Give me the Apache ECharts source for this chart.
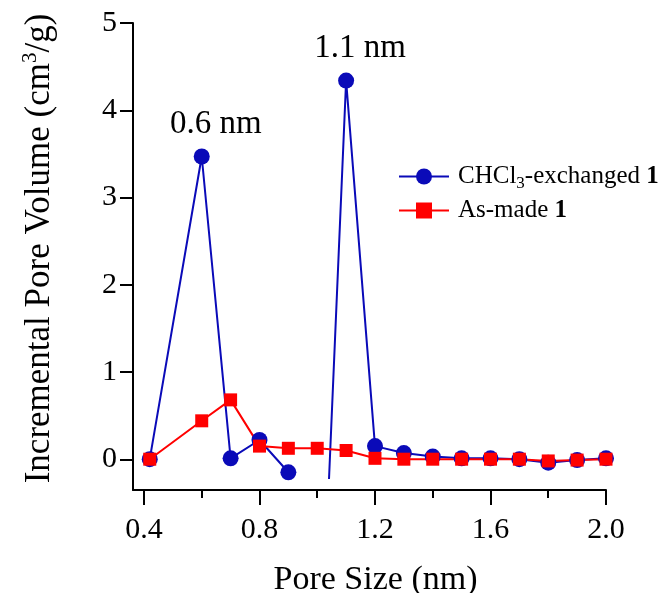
<!DOCTYPE html>
<html>
<head>
<meta charset="utf-8">
<script src="https://cdn.jsdelivr.net/npm/echarts@6/dist/echarts.min.js"></script>
<style>
  html, body { margin: 0; padding: 0; background: #fff; }
  #chart { width: 668px; height: 593px; }
</style>
</head>
<body>
<div id="chart"></div>
<script>
// pore size (nm)
const poreSize = [0.42, 0.6, 0.7, 0.8, 0.9, 1.0, 1.1, 1.2, 1.3, 1.4, 1.5, 1.6, 1.7, 1.8, 1.9, 2.0];
// CHCl3-exchanged 1 (1.0 nm point runs off the bottom of the plot)
const exchanged = [0.0, 3.47, 0.01, 0.22, -0.15, -3.37, 4.34, 0.15, 0.07, 0.03, 0.01, 0.01, 0.0, -0.04, -0.01, 0.01];
// As-made 1
const asMade = [0.0, 0.44, 0.68, 0.15, 0.125, 0.125, 0.10, 0.01, 0.0, 0.0, 0.0, 0.0, 0.0, -0.02, -0.01, 0.0];
// peak annotations on the exchanged curve
const peakLabels = ["", "0.6 nm", "", "", "", "", "1.1 nm", "", "", "", "", "", "", "", "", ""];

const xMajor = [0.4, 0.8, 1.2, 1.6, 2.0];
const xMinor = [0.6, 1.0, 1.4, 1.8];
const yTicks = [0, 1, 2, 3, 4, 5];

const font = "'Liberation Serif', 'Times New Roman', serif";
const blue = "#0a0ab8";
const red = "#ff0000";

function pairs(ys, labels) {
  return poreSize.map(function (x, i) {
    let item = { value: [x, ys[i]] };
    if (labels && labels[i]) {
      item.label = {
        show: true,
        formatter: labels[i],
        position: "top",
        distance: 8,
        offset: [14, 0],
        fontFamily: font,
        fontSize: 33,
        color: "#000"
      };
    }
    return item;
  });
}

// grid 0 draws the data (clipped a little above the axis line),
// grid 1 carries the visible axes
const xMin = 0.362, xMax = 2.0;
const yMax = 5, yMinData = -0.2155, yMinAxis = -0.35;

let myChart = echarts.init(document.getElementById("chart")),
  option;

option = {
  animation: false,
  backgroundColor: "#fff",
  grid: [
    { left: 133, right: 62, top: 23, bottom: 115, outerBoundsMode: "none" },
    { left: 133, right: 62, top: 23, bottom: 103, outerBoundsMode: "none" }
  ],
  legend: {
    orient: "vertical",
    left: 398,
    top: 164,
    padding: 0,
    itemWidth: 50,
    itemHeight: 20,
    itemGap: 6,
    data: ["ex", "am"],
    formatter: function (name) {
      return name === "ex" ? "CHCl{sub|3}-exchanged {b|1}" : "As-made {b|1}";
    },
    textStyle: {
      fontFamily: font,
      fontSize: 25,
      color: "#000",
      padding: [0, 0, 0, 4],
      rich: {
        sub: { fontFamily: font, fontSize: 17, color: "#000", padding: [14, 0, 0, 0] },
        b: { fontFamily: font, fontSize: 25, fontWeight: "bold", color: "#000" }
      }
    }
  },
  xAxis: [
    {
      type: "value",
      gridIndex: 0,
      min: xMin,
      max: xMax,
      show: false
    },
    {
      type: "value",
      gridIndex: 1,
      min: xMin,
      max: xMax,
      name: "Pore Size (nm)",
      nameLocation: "middle",
      nameGap: 73,
      nameTextStyle: { fontFamily: font, fontSize: 34, color: "#000", padding: [0, 0, 0, 12] },
      axisLine: { show: true, onZero: false, lineStyle: { color: "#000", width: 2 } },
      axisTick: { show: true, customValues: xMajor, length: 15, lineStyle: { color: "#000", width: 2 } },
      axisLabel: {
        show: true,
        customValues: xMajor,
        margin: 25,
        fontFamily: font,
        fontSize: 30,
        color: "#000",
        formatter: function (v) { return v.toFixed(1); }
      },
      splitLine: { show: false }
    },
    {
      type: "value",
      gridIndex: 1,
      position: "bottom",
      min: xMin,
      max: xMax,
      axisLine: { show: false, onZero: false },
      axisTick: { show: true, customValues: xMinor, length: 8, lineStyle: { color: "#000", width: 2 } },
      axisLabel: { show: false },
      splitLine: { show: false }
    }
  ],
  yAxis: [
    {
      type: "value",
      gridIndex: 0,
      min: yMinData,
      max: yMax,
      show: false
    },
    {
      type: "value",
      gridIndex: 1,
      min: yMinAxis,
      max: yMax,
      name: "Incremental Pore Volume (cm{sup|3}/g)",
      nameLocation: "middle",
      nameGap: 74,
      nameTextStyle: {
        fontFamily: font,
        fontSize: 35,
        color: "#000",
        padding: [0, 0, 0, 16],
        rich: {
          sup: { fontFamily: font, fontSize: 21, color: "#000", padding: [0, 0, 18, 0] }
        }
      },
      axisLine: { show: true, onZero: false, lineStyle: { color: "#000", width: 2 } },
      axisTick: { show: true, customValues: yTicks, length: 13, lineStyle: { color: "#000", width: 2 } },
      axisLabel: {
        show: true,
        customValues: yTicks,
        margin: 16,
        fontFamily: font,
        fontSize: 30,
        color: "#000"
      },
      splitLine: { show: false }
    }
  ],
  series: [
    {
      name: "ex",
      type: "line",
      xAxisIndex: 0,
      yAxisIndex: 0,
      clip: true,
      symbol: "circle",
      symbolSize: 16,
      color: blue,
      lineStyle: { color: blue, width: 2 },
      itemStyle: { color: blue },
      data: pairs(exchanged, peakLabels)
    },
    {
      name: "am",
      type: "line",
      xAxisIndex: 0,
      yAxisIndex: 0,
      clip: true,
      symbol: "rect",
      symbolSize: 13,
      color: red,
      lineStyle: { color: red, width: 2 },
      itemStyle: { color: red },
      data: pairs(asMade)
    }
  ]
};

if (option && typeof option === "object") myChart.setOption(option);
window.addEventListener("resize", function () {
  myChart.resize();
});
</script>
</body>
</html>
